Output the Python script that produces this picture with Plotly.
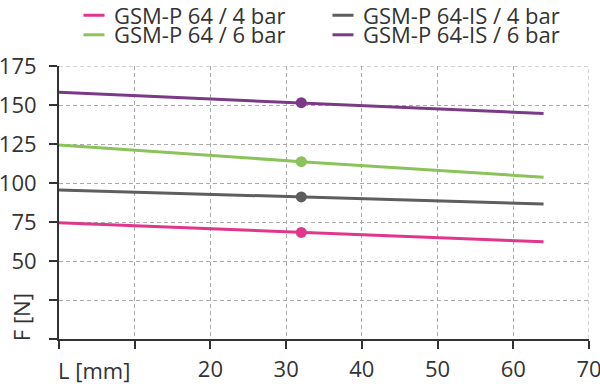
import plotly.graph_objects as go

# Data
L_mm = [0, 32, 64]
marker_L = [32]
series_names = ["GSM-P 64 / 4 bar", "GSM-P 64-IS / 4 bar", "GSM-P 64 / 6 bar", "GSM-P 64-IS / 6 bar"]
F_p64_4 = [74.5, 68.3, 62.3]
F_p64is_4 = [95.5, 91.1, 86.6]
F_p64_6 = [124.4, 113.7, 103.7]
F_p64is_6 = [158.1, 151.5, 144.5]
x_ticks = [0, 10, 20, 30, 40, 50, 60, 70]
x_ticktext = ["", "", "20", "30", "40", "50", "60", "70"]
y_ticks = [0, 25, 50, 75, 100, 125, 150, 175]
y_ticktext = ["", "", "50", "75", "100", "125", "150", "175"]
x_range = [0, 70]
y_range = [0, 175]

colors = ["#E0368C", "#5E5E5E", "#8BC25A", "#7B3A86"]
values = [F_p64_4, F_p64is_4, F_p64_6, F_p64is_6]
legends = ["legend", "legend", "legend2", "legend2"]

FONT = "Open Sans, Liberation Sans, sans-serif"
FS = 22
TXT = "#333333"
GRID = "#AAAAAA"
fig = go.Figure()
for name, vals, col in zip(series_names, values, colors):
    fig.add_trace(go.Scatter(x=L_mm, y=vals, mode="lines", line=dict(color=col, width=3),
                             showlegend=False, hoverinfo="skip"))
    fig.add_trace(go.Scatter(x=marker_L, y=[vals[1]], mode="markers",
                             marker=dict(color=col, size=11), showlegend=False))
for name, col, lg in zip(series_names, colors, legends):
    fig.add_trace(go.Scatter(x=[None], y=[None], mode="markers", name=name,
                             marker=dict(symbol="line-ew", size=15, line=dict(color=col, width=3)),
                             legend=lg))

axis_common = dict(showline=True, linecolor="#333333", linewidth=2, ticks="outside",
                   ticklen=8, tickwidth=2, tickcolor="#333333", showgrid=True,
                   gridcolor=GRID, gridwidth=1, griddash="4px,3px", zeroline=False,
                   ticklabeloverflow="allow",
                   tickfont=dict(family=FONT, size=FS, color=TXT))

legend_common = dict(orientation="h", xref="container", yref="container",
                     xanchor="left", yanchor="middle",
                     entrywidth=204, entrywidthmode="pixels", font=dict(size=FS),
                     bgcolor="rgba(0,0,0,0)", itemsizing="trace")

fig.update_layout(
    width=600, height=384,
    margin=dict(l=59, r=11, t=66, b=45, autoexpand=False),
    paper_bgcolor="white", plot_bgcolor="white",
    font=dict(family=FONT, size=FS, color=TXT),
    xaxis=dict(range=x_range, tickmode="array", tickvals=x_ticks, ticktext=x_ticktext,
               ticklabelstandoff=2, **axis_common),
    yaxis=dict(range=y_range, tickmode="array", tickvals=y_ticks, ticktext=y_ticktext,
               ticklabelstandoff=8, **axis_common),
    legend=dict(x=74 / 600, y=1 - 15.5 / 384, **legend_common),
    legend2=dict(x=74 / 600, y=1 - 35 / 384, **legend_common),
    annotations=[
        dict(text="L [mm]", xref="x", yref="paper", x=0, y=0, xanchor="left", yanchor="top",
             xshift=-3, yshift=-14, showarrow=False, font=dict(family=FONT, size=FS, color=TXT)),
        dict(text="F [N]", xref="paper", yref="y", x=0, y=14, xanchor="center", yanchor="middle",
             xshift=-38, textangle=-90, showarrow=False, font=dict(family=FONT, size=FS, color=TXT)),
    ],
    shapes=[
        dict(type="line", xref="x", yref="y", x0=x_range[0], x1=x_range[1], y0=y_range[1], y1=y_range[1],
             line=dict(color=GRID, width=1, dash="4px,3px"), layer="below"),
        dict(type="line", xref="x", yref="y", x0=x_range[1], x1=x_range[1], y0=y_range[0], y1=y_range[1],
             line=dict(color=GRID, width=1, dash="4px,3px"), layer="below"),
    ],
)
fig.write_html("out.html")
